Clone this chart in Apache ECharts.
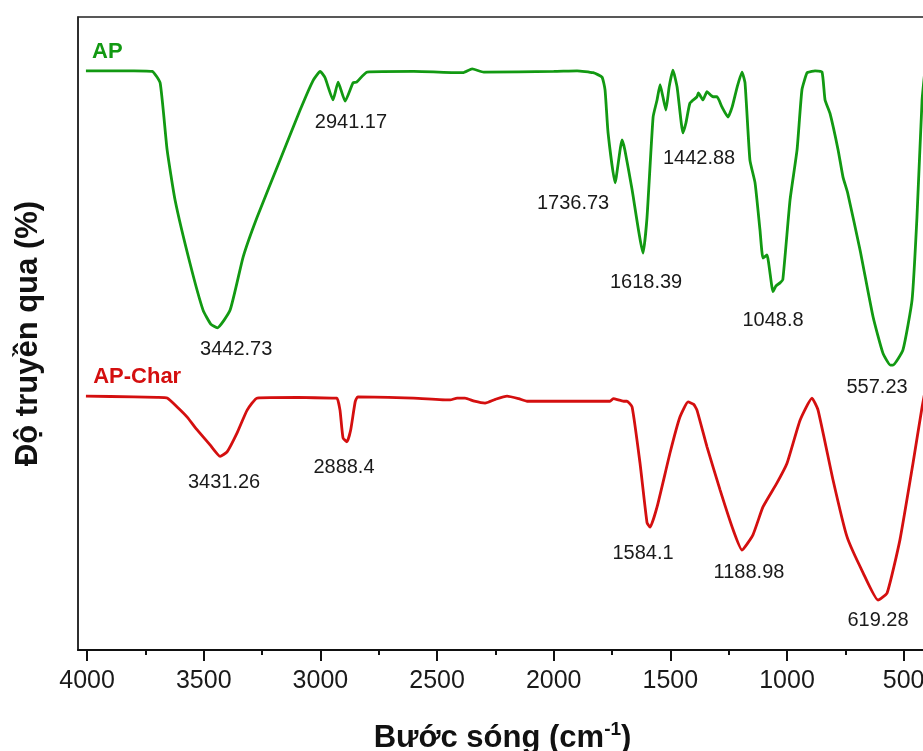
<!DOCTYPE html>
<html>
<head>
<meta charset="utf-8">
<script src="https://cdn.jsdelivr.net/npm/echarts@6/dist/echarts.min.js"></script>
<style>
html,body{margin:0;padding:0;background:#fff;}
#chart{width:923px;height:751px;}
</style>
</head>
<body>
<div id="chart"></div>
<script>
// ---- Data (wavenumber in cm-1, transmittance in arbitrary %) ----
const apWavenumber = [4005,3900,3800,3721,3687,3657,3623,3559,3503,3470,3442,3387,3331,3271,3173,3087,3031,3001,2980,2946,2924,2894,2860,2845,2800,2600,2389,2350,2300,2000,1900,1831,1793,1780,1767,1737,1707,1695,1664,1617,1600,1574,1557,1544,1532,1519,1505,1489,1471,1446,1433,1416,1386,1380,1360,1343,1317,1300,1279,1253,1235,1214,1193,1180,1159,1137,1116,1103,1086,1060,1048,1030,1018,987,957,936,914,895,880,850,837,816,781,760,740,687,631,589,557,546,503,464,443,421,409];
const apTransmittance = [91.5,91.5,91.5,91.4,89.6,79.0,71.1,61.1,53.7,51.5,50.9,53.7,62.1,68.4,77.4,85.3,90.0,91.4,90.4,86.9,89.7,86.7,89.6,89.7,91.3,91.4,91.2,91.8,91.3,91.4,91.5,91.2,90.5,88.5,81.7,73.8,80.6,79.0,72.7,62.7,68.4,84.2,86.9,89.3,87.4,85.3,89.0,91.6,88.9,81.7,83.3,86.4,87.4,88.0,86.9,88.2,87.4,87.4,85.8,84.2,85.8,88.9,91.3,89.6,77.4,73.8,66.4,61.9,62.4,56.6,57.5,58.0,58.5,71.1,79.0,88.5,91.2,91.4,91.5,91.3,86.9,84.8,79.0,74.7,72.2,63.2,52.6,46.9,45.0,45.0,47.4,55.3,68.4,86.9,91.5];

const charWavenumber = [4005,3800,3700,3657,3614,3571,3529,3473,3430,3400,3357,3314,3271,3100,2950,2929,2916,2903,2886,2870,2851,2840,2600,2444,2414,2380,2340,2294,2250,2200,2150,2114,1900,1759,1745,1700,1686,1664,1630,1600,1587,1557,1501,1459,1424,1400,1386,1343,1287,1231,1193,1146,1103,1043,1000,944,893,867,803,743,674,610,571,516,460,421,405];
const charTransmittance = [40.1,40.0,39.9,39.8,38.4,36.8,34.8,32.4,30.6,31.3,34.3,37.9,39.8,39.9,39.8,39.8,37.9,33.5,32.9,34.8,39.2,40.0,39.8,39.5,39.8,39.8,39.3,39.0,39.6,40.1,39.7,39.3,39.3,39.3,39.7,39.3,39.3,38.4,29.5,20.1,19.4,22.6,31.2,36.8,39.2,38.8,37.9,32.1,25.3,19.0,15.8,18.2,22.6,26.4,29.5,36.3,39.8,37.9,26.9,17.9,12.2,7.9,9.0,17.4,29.5,38.4,41.5];

// peak annotations: text, anchor wavenumber, anchor transmittance
const apPeakText = ['3442.73','2941.17','1736.73','1618.39','1442.88','1048.8','557.23'];
const apPeakAnchorW = [3361,2869,1917,1604,1377,1060,614];
const apPeakAnchorT = [47.4,83.3,70.6,58.1,77.7,52.1,41.5];
const charPeakText = ['3431.26','2888.4','1584.1','1188.98','619.28'];
const charPeakAnchorW = [3413,2899,1617,1163,610];
const charPeakAnchorT = [26.4,28.8,15.3,12.2,4.7];

const seriesNames = ['AP','AP-Char'];
const seriesNameAnchorW = [3979,3974];
const seriesNameAnchorT = [94.5,43.1];

const xTickValues = [4000,3500,3000,2500,2000,1500,1000,500];
const xMinorTickValues = [3750,3250,2750,2250,1750,1250,750];

const GREEN = '#129912';
const RED = '#d40f0f';

const zip = (a,b) => a.map((v,i)=>[v,b[i]]);
const labelPts = (t,w,v) => t.map((s,i)=>({name:s, value:[w[i],v[i]]}));

const chart = echarts.init(document.getElementById('chart'), null, {renderer:'canvas'});
const font = 'Liberation Sans, Arial, Helvetica, sans-serif';
const xCommon = {type:'value', min:400, max:4039, inverse:true, position:'bottom'};

chart.setOption({
  animation:false,
  backgroundColor:'#fff',
  grid:{left:78, top:17, right:-4, bottom:101, show:true, borderColor:'#222', borderWidth:1.5, containLabel:false, outerBoundsMode:'none'},
  xAxis:[
    Object.assign({}, xCommon, {
      axisLine:{show:true, lineStyle:{color:'#111', width:2}},
      axisTick:{show:true, length:11, customValues:xTickValues, lineStyle:{color:'#111', width:2}},
      axisLabel:{show:true, customValues:xTickValues, formatter:v=>String(v), margin:19, fontSize:25, color:'#1a1a1a', fontFamily:font},
      splitLine:{show:false},
      name:'Bước sóng (cm{sup|-1})',
      nameLocation:'middle', nameGap:70,
      nameTextStyle:{fontSize:31, fontWeight:'bold', color:'#111', fontFamily:font,
        rich:{sup:{fontSize:19, fontWeight:'bold', color:'#111', fontFamily:font, padding:[0,0,17,0]}}}
    }),
    Object.assign({}, xCommon, {
      axisLine:{show:false},
      axisTick:{show:true, length:5, customValues:xMinorTickValues, lineStyle:{color:'#111', width:2}},
      axisLabel:{show:false},
      splitLine:{show:false}
    })
  ],
  yAxis:{
    type:'value', min:0, max:100,
    axisLine:{show:true, lineStyle:{color:'#222', width:1.5}},
    axisTick:{show:false}, axisLabel:{show:false}, splitLine:{show:false},
    name:'Độ truyền qua (%)', nameLocation:'middle', nameGap:34, nameRotate:90,
    nameTextStyle:{fontSize:31, fontWeight:'bold', color:'#111', fontFamily:font}
  },
  series:[
    {type:'line', name:'AP', data:zip(apWavenumber, apTransmittance), showSymbol:false, smooth:0.15,
      lineStyle:{color:GREEN, width:2.8}, z:3},
    {type:'line', name:'AP-Char', data:zip(charWavenumber, charTransmittance), showSymbol:false, smooth:0.15,
      lineStyle:{color:RED, width:2.8}, z:3},
    {type:'scatter', data:labelPts(apPeakText, apPeakAnchorW, apPeakAnchorT).concat(labelPts(charPeakText, charPeakAnchorW, charPeakAnchorT)),
      symbolSize:0, silent:true, z:4, itemStyle:{opacity:1},
      label:{show:true, position:'inside', formatter:p=>p.name, fontSize:20, color:'#1a1a1a', fontFamily:font}},
    {type:'scatter', data:[{name:seriesNames[0], value:[seriesNameAnchorW[0],seriesNameAnchorT[0]]}],
      symbolSize:0, silent:true, z:4, itemStyle:{opacity:1},
      label:{show:true, position:'right', distance:0, formatter:p=>p.name, fontSize:22, fontWeight:'bold', color:GREEN, fontFamily:font}},
    {type:'scatter', data:[{name:seriesNames[1], value:[seriesNameAnchorW[1],seriesNameAnchorT[1]]}],
      symbolSize:0, silent:true, z:4, itemStyle:{opacity:1},
      label:{show:true, position:'right', distance:0, formatter:p=>p.name, fontSize:22, fontWeight:'bold', color:RED, fontFamily:font}}
  ]
});
</script>
</body>
</html>
